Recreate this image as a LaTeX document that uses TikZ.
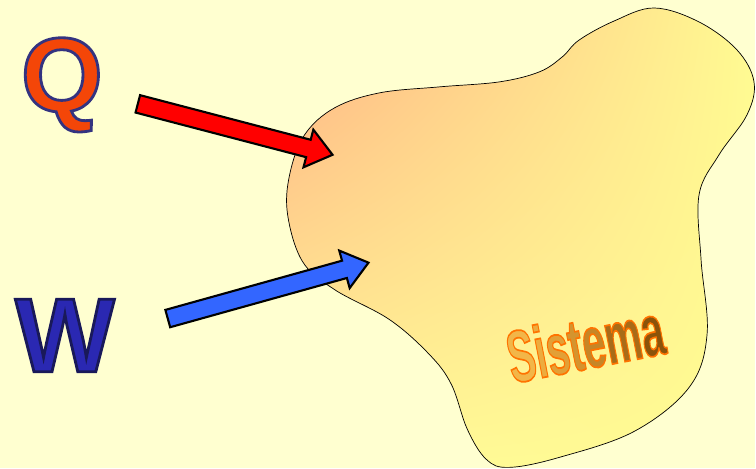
\documentclass[tikz,border=0pt]{standalone}
\usepackage{fontspec}
\setmainfont{Liberation Sans}
\usetikzlibrary{calc, shadings}
\definecolor{bgyellow}{RGB}{255,255,208}
\definecolor{qred}{RGB}{244,70,8}
\definecolor{wblue}{RGB}{42,40,178}
\definecolor{arrowred}{RGB}{255,0,0}
\definecolor{arrowblue}{RGB}{51,102,255}
\definecolor{salmon}{RGB}{255,176,132}
\definecolor{paleorange}{RGB}{255,250,152}
\definecolor{sysyellow}{RGB}{255,251,146}
\definecolor{sysA}{RGB}{242,182,72}
\definecolor{sysB}{RGB}{236,172,62}
\definecolor{sysC}{RGB}{226,160,54}
\definecolor{sysD}{RGB}{212,148,46}
\definecolor{sysE}{RGB}{198,134,38}
\definecolor{sysF}{RGB}{168,108,24}
\definecolor{sysG}{RGB}{138,84,10}

\tikzset{
  bigletter/.style={font=\fontsize{60}{60}\selectfont\bfseries, inner sep=0pt},
  fatarrow/.style={draw=black, line width=1.2pt, line join=miter},
}
% text with a stroked outline: width (bp), rgb stroke, text
\newcommand{\outlined}[3]{%
  \special{pdf:code q 2 Tr #1 w #2 RG}#3\special{pdf:code Q}}
% one orange-rimmed letter of the system label
\newcommand{\sysletter}[2]{{\color{#1}\outlined{1.0}{1 0.45 0}{#2}}}
% block arrow: tail, tip, fill colour
\newcommand{\blockarrow}[3]{%
  \coordinate (hb) at ($(#2)!0.5cm!(#1)$);
  \draw[fatarrow, fill=#3] ($(#1)!0.18cm!90:(#2)$) -- ($(hb)!0.18cm!90:(#2)$)
    -- ($(hb)!0.39cm!90:(#2)$) -- (#2) -- ($(hb)!0.39cm!-90:(#2)$)
    -- ($(hb)!0.18cm!-90:(#2)$) -- ($(#1)!0.18cm!-90:(#2)$) -- cycle;
}

\begin{document}
\begin{tikzpicture}[x=0.02cm, y=-0.02cm]
  % --- background ---
  \fill[bgyellow] (0,0) rectangle (756,469);
  % --- the system ---
  \shade[draw=black, thin, upper left=salmon, upper right=sysyellow,
         lower left=paleorange, lower right=sysyellow]
    plot[smooth cycle, tension=0.6] coordinates {
      (380,93) (440,87) (500,82) (540,72) (563,57) (580,40) (615,21) (655,8)
      (700,22) (738,50) (755,82) (748,115) (720,155) (700,195) (702,260)
      (708,335) (690,388) (635,432) (560,458) (510,468) (487,460) (468,430)
      (452,385) (430,355) (390,320) (335,290) (303,262) (288,215) (290,175)
      (305,135) (335,108)};
  \node[font=\fontsize{42}{42}\selectfont\bfseries, inner sep=0pt,
        rotate=11, xscale=0.56] (sys) at (586,343)
    {\sysletter{sysA}{S}\sysletter{sysB}{i}\sysletter{sysC}{s}\sysletter{sysD}{t}\sysletter{sysE}{e}\sysletter{sysF}{m}\sysletter{sysG}{a}};
  % --- heat and work ---
  \node[bigletter, text=qred] (Q) at (62,85) {\outlined{1.6}{0.2 0.2 0.5}{Q}};
  \node[bigletter, text=wblue] (W) at (65,336) {\outlined{1.6}{0.1 0.1 0.35}{W}};
  \coordinate (qtail) at (138,104);
  \coordinate (qtip) at (333,155);
  \coordinate (wtail) at (168,319);
  \coordinate (wtip) at (369,263);
  \blockarrow{qtail}{qtip}{arrowred}
  \blockarrow{wtail}{wtip}{arrowblue}
\end{tikzpicture}
\end{document}
